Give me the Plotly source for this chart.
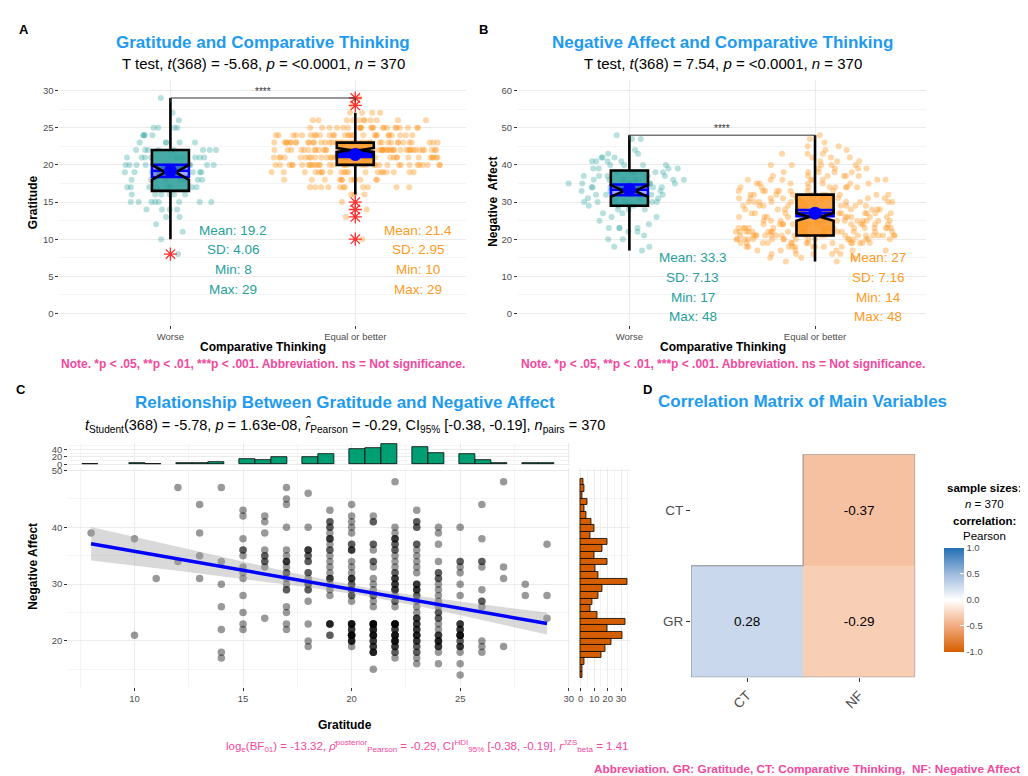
import numpy as np
import plotly.graph_objects as go

# ======================= DATA =======================
groups = ["Worse", "Equal or better"]
group_n = [92, 278]

# Panel A: Gratitude score frequencies by comparative-thinking group
gratitude_scores = [8, 10, 11, 12, 13, 14, 15, 16, 17, 18, 19, 20, 21, 22, 23, 24, 25, 26, 27, 28, 29]
gratitude_worse_counts = [1, 1, 1, 1, 2, 4, 8, 6, 8, 8, 9, 10, 9, 8, 5, 4, 4, 1, 1, 0, 1]
gratitude_equal_counts = [0, 1, 0, 0, 1, 1, 1, 3, 11, 12, 20, 34, 37, 50, 41, 27, 22, 11, 4, 1, 1]
gratitude_q1 = [16.5, 20]
gratitude_median = [19, 22]
gratitude_q3 = [22, 23]
gratitude_whisker_low = [10, 16]
gratitude_whisker_high = [29, 27]
gratitude_notch = [1.0, 0.28]
gratitude_mean = [19.2, 21.4]
gratitude_sd = [4.06, 2.95]
gratitude_min = [8, 10]
gratitude_max = [29, 29]
gratitude_outliers = [[8], [10, 13, 14, 15, 28, 29]]
gratitude_bracket = 29

# Panel B: Negative affect score frequencies by group (scores 14..48)
negaff_scores = list(range(14, 49))
negaff_worse_counts = [0, 0, 0, 1, 2, 0, 2, 1, 2, 4, 1, 1, 2, 2, 3, 4, 6, 4, 5, 4,
                       6, 6, 6, 5, 4, 4, 4, 4, 3, 2, 1, 0, 0, 2, 1]
negaff_equal_counts = [2, 3, 5, 6, 9, 14, 17, 20, 18, 16, 14, 12, 12, 11, 10, 10, 11, 11, 10, 8,
                       8, 7, 8, 6, 5, 4, 5, 3, 3, 3, 2, 2, 1, 1, 1]
negaff_q1 = [29, 21]
negaff_median = [33, 26]
negaff_q3 = [38.5, 32]
negaff_whisker_low = [17, 14]
negaff_whisker_high = [48, 48]
negaff_notch = [1.57, 1.04]
negaff_mean = [33.3, 27.0]
negaff_sd = [7.13, 7.16]
negaff_min = [17, 14]
negaff_max = [48, 48]
negaff_bracket = 48
sig_label = "****"

# Panel C: Negative affect values observed at each gratitude score {gratitude: {NA: count}}
pairs = {
    8: {39: 1},
    10: {38: 1, 21: 1},
    11: {31: 1},
    12: {47: 1, 34: 1},
    13: {44: 1, 39: 1, 35: 1, 31: 1},
    14: {47: 1, 34: 1, 30: 1, 26: 1, 22: 1, 18: 1, 17: 1},
    15: {43: 1, 42: 1, 38: 1, 36: 2, 35: 1, 33: 1, 32: 1, 31: 1, 28: 1, 25: 1, 23: 1, 22: 1},
    16: {42: 1, 41: 1, 39: 1, 36: 1, 35: 2, 34: 2, 33: 1, 24: 1},
    17: {47: 1, 45: 1, 44: 1, 40: 1, 36: 1, 35: 1, 34: 3, 33: 1, 32: 2, 31: 1, 30: 1, 29: 2,
         26: 1, 25: 1, 23: 1, 22: 1},
    18: {46: 1, 40: 1, 36: 3, 35: 2, 34: 2, 32: 2, 31: 1, 30: 2, 29: 2, 27: 1, 23: 1, 20: 1, 19: 1},
    19: {43: 1, 41: 2, 40: 2, 39: 1, 38: 3, 37: 1, 36: 2, 35: 1, 34: 1, 33: 1, 32: 1, 31: 3,
         30: 1, 29: 1, 28: 1, 23: 4, 21: 2},
    20: {44: 1, 42: 1, 41: 1, 40: 1, 39: 1, 37: 2, 36: 3, 34: 1, 33: 1, 32: 1, 31: 3, 30: 2,
         29: 2, 28: 2, 27: 1, 23: 5, 22: 3, 21: 6, 20: 4, 19: 1},
    21: {42: 1, 41: 2, 37: 2, 36: 1, 34: 2, 33: 1, 31: 1, 30: 1, 29: 1, 28: 2, 27: 1, 26: 1,
         23: 7, 22: 4, 21: 5, 20: 3, 19: 3, 18: 4, 15: 1},
    22: {48: 1, 40: 1, 39: 1, 38: 3, 37: 2, 36: 2, 35: 1, 34: 1, 33: 1, 32: 2, 31: 3, 30: 3,
         29: 3, 28: 1, 27: 2, 26: 1, 23: 7, 22: 3, 21: 5, 20: 5, 19: 3, 18: 2, 17: 1},
    23: {43: 1, 41: 2, 40: 2, 37: 2, 36: 1, 35: 1, 34: 1, 33: 1, 32: 1, 30: 3, 29: 3, 28: 2,
         27: 1, 26: 1, 25: 1, 24: 3, 23: 3, 22: 3, 21: 4, 20: 3, 19: 2, 18: 2, 17: 1, 16: 1},
    24: {40: 1, 39: 1, 37: 1, 34: 1, 32: 2, 31: 2, 30: 1, 29: 1, 28: 1, 27: 1, 26: 1, 25: 2,
         24: 2, 23: 1, 22: 1, 21: 3, 20: 4, 19: 3, 18: 1, 16: 1},
    25: {40: 1, 34: 2, 33: 1, 32: 1, 30: 1, 28: 1, 23: 3, 22: 3, 21: 5, 20: 2, 19: 3, 18: 1,
         16: 1, 14: 1},
    26: {44: 1, 38: 1, 34: 2, 33: 1, 29: 1, 27: 2, 26: 1, 20: 1, 19: 1, 18: 1},
    27: {48: 1, 33: 1, 31: 1, 19: 1},
    28: {30: 1, 28: 1},
    29: {37: 1, 28: 1, 24: 1},
}
scatter_stats = ("<i>t</i><sub>Student</sub>(368) = -5.78, <i>p</i> = 1.63e-08, "
                 "<i>r\u0302</i><sub>Pearson</sub> = -0.29, CI<sub>95%</sub> [-0.38, -0.19], "
                 "<i>n</i><sub>pairs</sub> = 370")
bayes_stats = ("log<sub>e</sub>(BF<sub>01</sub>) = -13.32, <i>\u03c1\u0302</i><sup>posterior</sup>"
               "<sub>Pearson</sub> = -0.29, CI<sup>HDI</sup><sub>95%</sub> [-0.38, -0.19], "
               "<i>r</i><sup>JZS</sup><sub>beta</sub> = 1.41")

# Panel D: correlation matrix
corr_x = ["CT", "NF"]
corr_y = ["GR", "CT"]
corr_values = [[0.28, -0.29], [None, -0.37]]

# ======================= STYLE / LAYOUT HELPERS =======================
W, H = 1028, 776
FONT = "Liberation Sans, Arial, Helvetica, sans-serif"
BLUE_T = "#1E9BF0"
PINK = "#F2489D"
TEAL_TXT = "#27A09B"
ORANGE_TXT = "#FF9A22"
box_fill = ["rgba(40,155,150,0.85)", "rgba(250,155,45,0.9)"]
pt_color = ["rgba(35,160,155,0.33)", "rgba(255,150,30,0.38)"]
stat_color = [TEAL_TXT, ORANGE_TXT]


def px(x):
    return x / W


def py(y):
    return 1 - y / H


def dx(a, b):
    return [a / W, b / W]


def dy(top, bottom):
    return [1 - bottom / H, 1 - top / H]


def axis(**kw):
    d = dict(showline=False, zeroline=False, showgrid=True, gridcolor="#EBEBEB", gridwidth=1.1,
             ticks="outside", ticklen=3, tickcolor="#333333", tickwidth=1,
             tickfont=dict(family=FONT, size=9.5, color="#4D4D4D"), fixedrange=True)
    d.update(kw)
    return d


def minor(step):
    return dict(showgrid=True, gridcolor="#F4F4F4", gridwidth=0.7, dtick=step, ticks="")


annotations = []
shapes = []


def ann(text, x, y, size, color="black", xanchor="center", yanchor="middle", angle=0,
        xref="paper", yref="paper"):
    annotations.append(dict(text=text, x=x if xref != "paper" else px(x),
                            y=y if yref != "paper" else py(y), xref=xref, yref=yref,
                            showarrow=False, textangle=angle, xanchor=xanchor, yanchor=yanchor,
                            borderpad=0,
                            font=dict(family=FONT, size=size, color=color)))


fig = go.Figure()


def group_panel(xa, ya, counts_by_group, scores, q1, med, q3, wlo, whi, notch, mean, sd,
                outliers, spreads):
    for g in range(2):
        vals = np.repeat(scores, counts_by_group[g])
        ci = 1.96 * sd[g] / np.sqrt(group_n[g])
        common = dict(x=[g], xaxis=xa, yaxis=ya, width=0.2, hoverinfo="skip", whiskerwidth=0)
        # filled notched box
        fig.add_trace(go.Box(q1=[q1[g]], median=[med[g]], q3=[q3[g]], lowerfence=[wlo[g]],
                             upperfence=[whi[g]], notchspan=[notch[g]], notched=True,
                             notchwidth=0.35, fillcolor=box_fill[g],
                             line=dict(width=0, color="rgba(0,0,0,0)"), **common))
        # jittered points
        fig.add_trace(go.Box(y=vals, x=[g] * len(vals), xaxis=xa, yaxis=ya, boxpoints="all",
                             jitter=1, pointpos=0, width=spreads[g],
                             fillcolor="rgba(0,0,0,0)", line=dict(width=0, color="rgba(0,0,0,0)"),
                             marker=dict(color=pt_color[g], size=6), hoverinfo="skip"))
        # mean CI crossbar
        fig.add_trace(go.Box(q1=[mean[g] - ci], median=[mean[g]], q3=[mean[g] + ci],
                             lowerfence=[mean[g] - ci], upperfence=[mean[g] + ci],
                             fillcolor="rgba(0,0,255,0.35)", line=dict(color="#0000FF", width=2.5),
                             **common))
        # outline of notched box + whiskers
        fig.add_trace(go.Box(q1=[q1[g]], median=[med[g]], q3=[q3[g]], lowerfence=[wlo[g]],
                             upperfence=[whi[g]], notchspan=[notch[g]], notched=True,
                             notchwidth=0.35, fillcolor="rgba(0,0,0,0)",
                             line=dict(width=2.6, color="black"), **common))
        # outliers
        if outliers[g]:
            fig.add_trace(go.Scatter(x=[g] * len(outliers[g]), y=outliers[g], mode="markers",
                                     xaxis=xa, yaxis=ya, hoverinfo="skip",
                                     marker=dict(symbol="asterisk-open", size=11, color="#FF3030",
                                                 line=dict(color="#FF3030", width=1.3))))
        # mean point
        fig.add_trace(go.Scatter(x=[g], y=[mean[g]], mode="markers", xaxis=xa, yaxis=ya,
                                 hoverinfo="skip", marker=dict(color="#0000FF", size=13)))


group_panel("x", "y", [gratitude_worse_counts, gratitude_equal_counts], gratitude_scores,
            gratitude_q1, gratitude_median, gratitude_q3, gratitude_whisker_low,
            gratitude_whisker_high, gratitude_notch, gratitude_mean, gratitude_sd,
            gratitude_outliers, [0.5, 0.92])
group_panel("x2", "y2", [negaff_worse_counts, negaff_equal_counts], negaff_scores,
            negaff_q1, negaff_median, negaff_q3, negaff_whisker_low, negaff_whisker_high,
            negaff_notch, negaff_mean, negaff_sd, [[], []], [0.74, 0.86])

# significance brackets
for xa, ya, yb, tip in [("x", "y", gratitude_bracket, 0.6), ("x2", "y2", negaff_bracket, 1.2)]:
    shapes.append(dict(type="path", xref=xa, yref=ya,
                       path=f"M 0 {yb - tip} L 0 {yb} L 1 {yb} L 1 {yb - tip}",
                       line=dict(color="#333333", width=1)))
    ann(sig_label, 0.5, yb, 10, "#333333", yanchor="bottom", xref=xa, yref=ya)

# stats text per group
for g in range(2):
    lines_a = [f"Mean: {gratitude_mean[g]:g}", f"SD: {gratitude_sd[g]:g}",
               f"Min: {gratitude_min[g]:g}", f"Max: {gratitude_max[g]:g}"]
    for txt, yy in zip(lines_a, [221, 241, 261, 281]):
        ann(txt, g + 0.34, yy, 13.5, stat_color[g], xref="x")
    lines_b = [f"Mean: {negaff_mean[g]:g}", f"SD: {negaff_sd[g]:g}",
               f"Min: {negaff_min[g]:g}", f"Max: {negaff_max[g]:g}"]
    for txt, yy in zip(lines_b, [249, 269, 289, 308.5]):
        ann(txt, g + 0.34, yy, 13.5, stat_color[g], xref="x2")

# ---------- Panel C ----------
gx = np.array([g for g, d in pairs.items() for v, c in d.items() for _ in range(c)], float)
gy = np.array([v for g, d in pairs.items() for v, c in d.items() for _ in range(c)], float)
slope, intercept = np.polyfit(gx, gy, 1)
xs = np.linspace(gx.min(), gx.max(), 60)
fit = intercept + slope * xs
resid = gy - (intercept + slope * gx)
s = np.sqrt(np.sum(resid ** 2) / (len(gx) - 2))
se = s * np.sqrt(1 / len(gx) + (xs - gx.mean()) ** 2 / np.sum((gx - gx.mean()) ** 2))
tcrit = 1.9665

fig.add_trace(go.Scatter(x=gx, y=gy, mode="markers", xaxis="x3", yaxis="y3", hoverinfo="skip",
                         marker=dict(color="rgba(0,0,0,0.4)", size=7.5)))
fig.add_trace(go.Scatter(x=np.concatenate([xs, xs[::-1]]),
                         y=np.concatenate([fit + tcrit * se, (fit - tcrit * se)[::-1]]),
                         fill="toself", fillcolor="rgba(160,160,160,0.4)", line=dict(width=0),
                         mode="lines", xaxis="x3", yaxis="y3", hoverinfo="skip"))
fig.add_trace(go.Scatter(x=xs, y=fit, mode="lines", line=dict(color="#0000FF", width=3.5),
                         xaxis="x3", yaxis="y3", hoverinfo="skip"))
fig.add_trace(go.Histogram(x=gx, xbins=dict(start=7.60, end=29.5, size=21 / 29), xaxis="x4",
                           yaxis="y4", marker=dict(color="#009E73", line=dict(color="black", width=0.8)),
                           hoverinfo="skip"))
fig.add_trace(go.Histogram(y=gy, ybins=dict(start=13.424, end=48.7, size=34 / 29), xaxis="x5",
                           yaxis="y5", marker=dict(color="#D55E00", line=dict(color="black", width=0.8)),
                           hoverinfo="skip"))

# ---------- Panel D ----------
zt = [["" if v is None else f"{v:.2f}" for v in row] for row in corr_values]
fig.add_trace(go.Heatmap(z=corr_values, x=[0, 1], y=[0, 1], text=zt, texttemplate="%{text}",
                         textfont=dict(family=FONT, size=13.5, color="black"), zmin=-1, zmax=1,
                         xaxis="x6", yaxis="y6", hoverinfo="skip",
                         colorscale=[[0, "#D55E00"], [0.25, "#F3AB80"], [0.5, "#FFFFFF"],
                                     [0.75, "#9FBADD"], [1, "#2470B3"]],
                         colorbar=dict(thickness=20, len=104, lenmode="pixels", x=px(940),
                                       xanchor="left", y=py(594), yanchor="middle", xpad=0, ypad=0,
                                       outlinewidth=0, tickvals=[-1, -0.5, 0, 0.5, 1],
                                       ticktext=["-1.0", "-0.5", "0.0", "0.5", "1.0"],
                                       ticks="inside", ticklen=4, tickcolor="white",
                                       tickfont=dict(family=FONT, size=9.5, color="#4D4D4D"))))
# outer outline of the filled tiles
nr, nc = len(corr_values), len(corr_values[0])


def filled(r, c):
    return 0 <= r < nr and 0 <= c < nc and corr_values[r][c] is not None


for r in range(nr):
    for c in range(nc):
        if not filled(r, c):
            continue
        for dr, dc, seg in [(0, -1, (c - .5, r - .5, c - .5, r + .5)), (0, 1, (c + .5, r - .5, c + .5, r + .5)),
                            (-1, 0, (c - .5, r - .5, c + .5, r - .5)), (1, 0, (c - .5, r + .5, c + .5, r + .5))]:
            if not filled(r + dr, c + dc):
                shapes.append(dict(type="line", xref="x6", yref="y6", x0=seg[0], y0=seg[1],
                                   x1=seg[2], y1=seg[3], line=dict(color="#8A8A8A", width=1)))

# ======================= TEXT =======================
for lab, x, y in [("A", 16, 19), ("B", 477, 19), ("C", 13, 382), ("D", 642, 382)]:
    ann(f"<b>{lab}</b>", x, y, 13)

note = "<b>Note. *p &lt; .05, **p &lt; .01, ***p &lt; .001. Abbreviation. ns = Not significance.</b>"
for cx, title, sub, ytitle, yx in [
        (256, "Gratitude and Comparative Thinking",
         "T test, <i>t</i>(368) = -5.68, <i>p</i> = &lt;0.0001, <i>n</i> = 370", "Gratitude", 25),
        (717.5, "Negative Affect and Comparative Thinking",
         "T test, <i>t</i>(368) = 7.54, <i>p</i> = &lt;0.0001, <i>n</i> = 370",
         "Negative\u00a0 Affect", 487.5)]:
    ann(f"<b>{title}</b>", cx, 32, 17, BLUE_T)
    ann(sub, cx, 52.5, 15)
    ann("<b>Comparative Thinking</b>", cx, 339, 12)
    ann(f"<b>{ytitle}</b>", yx, 193, 12, angle=-90)
    ann(note, cx, 356, 12, PINK)

ann("<b>Relationship Between Gratitude and Negative Affect</b>", 338, 395, 17, BLUE_T)
ann(scatter_stats, 338, 418, 14.5)
ann("<b>Gratitude</b>", 338, 720, 12)
ann("<b>Negative Affect</b>", 25, 560, 12, angle=-90)
ann(bayes_stats, 623, 742, 11.5, PINK, xanchor="right")

ann("<b>Correlation Matrix of Main Variables</b>", 652, 394, 17, BLUE_T, xanchor="left")
ann("<b>sample sizes:</b>", 980, 481, 11.5)
ann("<i>n</i> = 370", 980, 497.5, 11.5)
ann("<b>correlation:</b>", 980, 514.5, 11.5)
ann("Pearson", 980, 530, 11.5)

ann("<b>Abbreviation. GR: Gratitude, CT: Comparative Thinking,  NF: Negative Affect.</b>",
    1021, 765, 11.8, PINK, xanchor="right")

# ======================= AXES =======================
fig.update_layout(
    width=W, height=H, margin=dict(l=0, r=0, t=0, b=0), paper_bgcolor="white",
    plot_bgcolor="white", showlegend=False, boxmode="overlay", bargap=0,
    annotations=annotations, shapes=shapes,
    xaxis=axis(domain=dx(51.7, 460), anchor="y", range=[-0.6, 1.6], tickvals=[0, 1],
               ticktext=groups),
    yaxis=axis(domain=dy(70, 316.7), anchor="x", range=[-1.52, 31.37], dtick=5, tick0=0,
               minor=minor(2.5)),
    xaxis2=axis(domain=dx(512, 922), anchor="y2", range=[-0.6, 1.6], tickvals=[0, 1],
                ticktext=groups),
    yaxis2=axis(domain=dy(70, 316.7), anchor="x2", range=[-3.04, 62.75], dtick=10, tick0=0,
                minor=minor(5)),
    xaxis3=axis(domain=dx(60.5, 564), anchor="y3", range=[6.95, 30.05], dtick=5, tick0=0,
                minor=minor(2.5)),
    yaxis3=axis(domain=dy(461, 682), anchor="x3", range=[11.92, 50.47], dtick=10, tick0=0,
                minor=minor(5)),
    xaxis4=axis(domain=dx(60.5, 564), anchor="y4", matches="x3", showticklabels=False, ticks="",
                minor=minor(2.5)),
    yaxis4=axis(domain=dy(436, 458.5), anchor="x4", range=[-3.2, 56.8], tickvals=[0, 20, 40],
                minor=minor(10)),
    xaxis5=axis(domain=dx(572.6, 624.6), anchor="y5", range=[-1.75, 36.75],
                tickvals=[0, 10, 20, 30], minor=minor(5)),
    yaxis5=axis(domain=dy(461, 682), anchor="x5", matches="y3", showticklabels=False, ticks="",
                minor=minor(5)),
    xaxis6=axis(domain=dx(685.7, 910.7), anchor="y6", range=[-0.5, 1.5], tickvals=[0, 1],
                ticktext=corr_x, showgrid=False, tickangle=-45, ticklen=4,
                tickfont=dict(family=FONT, size=13.5, color="#4D4D4D")),
    yaxis6=axis(domain=dy(447.3, 672.3), anchor="x6", range=[-0.5, 1.5], tickvals=[0, 1],
                ticktext=corr_y, showgrid=False, ticklen=4,
                tickfont=dict(family=FONT, size=13.5, color="#4D4D4D")),
)

fig.write_html("out.html")
